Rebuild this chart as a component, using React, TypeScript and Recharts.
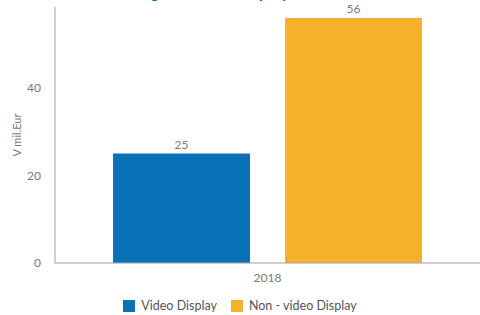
import { BarChart, Bar, XAxis, YAxis, Legend, LabelList } from "recharts";

const years = ["2018"];
const videoDisplay = [25];
const nonVideoDisplay = [56];
const yTicks = [0, 20, 40];

const series = [
  { key: "video", name: "Video Display", color: "#0a70b8" },
  { key: "nonVideo", name: "Non - video Display", color: "#f6b12b" },
];

const data = years.map((year, i) => ({
  year,
  video: videoDisplay[i],
  nonVideo: nonVideoDisplay[i],
}));

const FONT = "Lato, 'Open Sans', sans-serif";
const TEXT = "#7a7a7a";

function LegendBox() {
  return (
    <div style={{ display: "flex", justifyContent: "center", gap: 14, fontSize: 12.5, fontFamily: FONT }}>
      {series.map((s) => (
        <div key={s.key} style={{ display: "flex", alignItems: "center", gap: 6 }}>
          <span style={{ width: 12, height: 12, background: s.color, display: "inline-block" }} />
          <span style={{ color: "#555" }}>{s.name}</span>
        </div>
      ))}
    </div>
  );
}

export default function App() {
  return (
    <div
      style={{
        position: "absolute",
        left: 0,
        top: 0,
        width: 480,
        height: 315,
        overflow: "hidden",
        background: "#fff",
        fontFamily: FONT,
      }}
    >
      <div
        style={{
          position: "absolute",
          left: 124,
          top: -19,
          fontSize: 17,
          fontWeight: 700,
          color: "#0a70b8",
          whiteSpace: "nowrap",
        }}
      >
        Programmatic Display
      </div>
      <BarChart
        width={480}
        height={315}
        data={data}
        margin={{ top: 7, right: 0, left: 0, bottom: 12 }}
        barGap={35}
        barSize={137}
      >
        <XAxis
          dataKey="year"
          axisLine={{ stroke: "#a0a0a0" }}
          tickLine={false}
          tick={{ fill: TEXT, fontSize: 12, fontFamily: FONT }}
          tickMargin={4}
          height={25}
        />
        <YAxis
          domain={[0, 58.5]}
          ticks={yTicks}
          width={55}
          axisLine={{ stroke: "#a0a0a0" }}
          tickLine={false}
          tick={{ fill: TEXT, fontSize: 12, fontFamily: FONT }}
          tickMargin={8}
          label={{
            value: "V mil.Eur",
            angle: -90,
            position: "insideLeft",
            offset: 17,
            style: { fill: TEXT, fontSize: 11, fontFamily: FONT, textAnchor: "middle" },
          }}
        />
        <Legend content={<LegendBox />} wrapperStyle={{ top: 298, left: 0, width: 480 }} />
        {series.map((s) => (
          <Bar key={s.key} dataKey={s.key} name={s.name} fill={s.color} isAnimationActive={false}>
            <LabelList dataKey={s.key} position="top" fill={TEXT} fontSize={12} fontFamily={FONT} />
          </Bar>
        ))}
      </BarChart>
    </div>
  );
}
